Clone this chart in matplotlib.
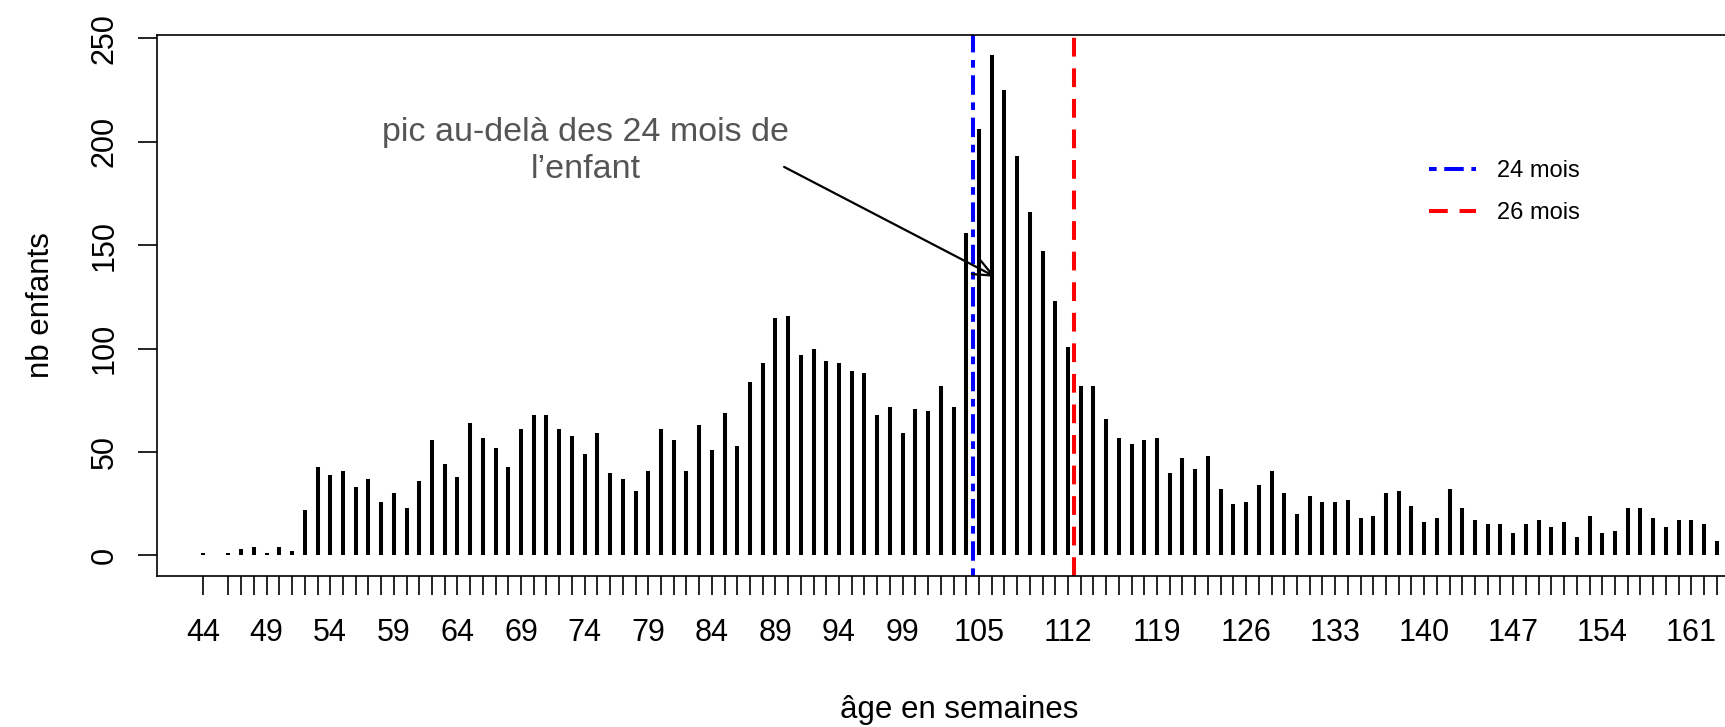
import matplotlib
matplotlib.use("Agg")
import matplotlib.pyplot as plt

plt.rcParams['font.family'] = ['Liberation Sans', 'DejaVu Sans']
plt.rcParams['lines.scale_dashes'] = False

# ---- data ----
weeks = [44] + list(range(46, 164))
counts = [1,
          1, 3, 4, 1, 4, 2, 22, 43, 39, 41, 33, 37, 26, 30, 23, 36, 56, 44, 38,
          64, 57, 52, 43, 61, 68, 68, 61, 58, 49, 59, 40, 37, 31, 41, 61, 56, 41, 63, 51,
          69, 53, 84, 93, 115, 116, 97, 100, 94, 93, 89, 88, 68, 72, 59, 71, 70, 82, 72, 156,
          206, 242, 225, 193, 166, 147, 123, 101, 82, 82, 66, 57, 54, 56, 57, 40, 47, 42, 48, 32,
          25, 26, 34, 41, 30, 20, 29, 26, 26, 27, 18, 19, 30, 31, 24, 16, 18, 32, 23, 17,
          15, 15, 11, 15, 17, 14, 16, 9, 19, 11, 12, 23, 23, 18, 14, 17, 17, 15, 7]
label_weeks = [44, 49, 54, 59, 64, 69, 74, 79, 84, 89, 94, 99, 105, 112, 119, 126,
               133, 140, 147, 154, 161]
y_ticks = [0, 50, 100, 150, 200, 250]
ref_lines = {"24 mois": 104.5, "26 mois": 112.5}

W, H = 1725, 727
fig = plt.figure(figsize=(W / 100, H / 100), dpi=100)
ax_left, ax_right, ax_top, ax_bot = 157, 1761, 35, 575.5
ax = fig.add_axes([ax_left / W, (H - ax_bot) / H, (ax_right - ax_left) / W, (ax_bot - ax_top) / H])

ax.vlines(weeks, 0, counts, colors='black', linewidth=2.9)
ax.axvline(ref_lines["24 mois"], color='#0000FF', linewidth=2.9,
           dashes=(5.5, 5.5, 14, 5.5), label="24 mois")
ax.axvline(ref_lines["26 mois"], color='#FF0000', linewidth=2.9,
           dashes=(13.5, 8.5), label="26 mois")

ax.set_xlim(40.38, 166.48)
ax.set_ylim(-9.68, 251.68)

ax.set_xticks(weeks)
ax.set_xticklabels([str(w) if w in label_weeks else '' for w in weeks], fontsize=22)
ax.set_yticks(y_ticks)
ax.set_yticklabels([str(v) for v in y_ticks], fontsize=22, rotation=90, va='center')
ax.tick_params(axis='both', length=14, width=1.2, direction='out')
ax.tick_params(axis='x', pad=16.3)
ax.tick_params(axis='y', pad=13)
for s in ax.spines.values():
    s.set_linewidth(1.2)

ax.set_xlabel("âge en semaines", fontsize=22.5, va='center')
ax.xaxis.set_label_coords(0.5, (ax_bot - 710) / (ax_bot - ax_top))
ax.set_ylabel("nb enfants", fontsize=22.5, va='center')
ax.yaxis.set_label_coords((41 - ax_left) / (ax_right - ax_left), 0.5)

ax.text(74.1, 195.6, "pic au-delà des 24 mois de\nl\u2019enfant", ha='center', va='center',
        multialignment='center', color='#555555', fontsize=24.5, linespacing=1.25)
ax.annotate('', xy=(106.3, 134.7), xytext=(89.68, 187.9),
            arrowprops=dict(arrowstyle='->,head_length=0.7,head_width=0.3', lw=1.6,
                            color='black', mutation_scale=20, shrinkA=0, shrinkB=0))

ax.legend(loc='center left', bbox_to_anchor=(140.4, 175.7), bbox_transform=ax.transData,
          frameon=False, fontsize=17, handlelength=2.0, handletextpad=0.85,
          labelspacing=0.82, borderpad=0, borderaxespad=0)

fig.savefig("out.png", dpi=100)
